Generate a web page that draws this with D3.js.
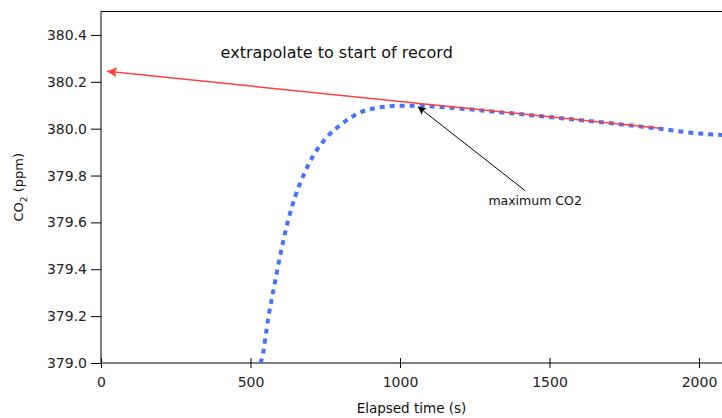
<!DOCTYPE html>
<html>
<head>
<meta charset="utf-8">
<script src="https://cdn.jsdelivr.net/npm/d3@7"></script>
<style>
  body { margin: 0; background: #fff; }
  svg { display: block; font-family: "DejaVu Sans", Verdana, sans-serif; }
</style>
</head>
<body>
<svg id="chart" width="722" height="418"></svg>
<script>
// elapsed time (s) and CO2 (ppm)
var times = [533, 537, 560, 582, 604, 626, 649, 677, 710, 755, 805, 866, 933, 1000, 1056, 1161, 1344, 1528, 1712, 1860, 2003, 2077];
var co2   = [379.0, 379.013, 379.197, 379.346, 379.488, 379.609, 379.708, 379.8, 379.885, 379.963, 380.02, 380.069, 380.091, 380.098, 380.098, 380.09, 380.069, 380.046, 380.022, 380.001, 379.979, 379.973];

// extrapolation line (drawn from the fit end back to the start of record)
var fitTimes = [1870, 20];
var fitCO2   = [380.002, 380.245];

// "maximum CO2" pointer: tail then tip
var maxArrowTimes = [1418, 1060];
var maxArrowCO2   = [379.736, 380.094];

var xTicks = [0, 500, 1000, 1500, 2000];
var yTicks = [379.0, 379.2, 379.4, 379.6, 379.8, 380.0, 380.2, 380.4];

let svg = d3.select("#chart"),
    margin = { top: 11.5, right: 0, bottom: 55, left: 101 },
    width = +svg.attr("width") - margin.left - margin.right,
    height = +svg.attr("height") - margin.top - margin.bottom;

let x = d3.scaleLinear().domain([0, 2077]).range([0, width]);
let y = d3.scaleLinear().domain([379, 380.5]).range([height, 0]);

let defs = svg.append("defs");
defs.append("marker")
    .attr("id", "redhead")
    .attr("viewBox", "0 -5 10 10")
    .attr("refX", 10).attr("refY", 0)
    .attr("markerUnits", "userSpaceOnUse")
    .attr("markerWidth", 16).attr("markerHeight", 10)
    .attr("orient", "auto")
    .append("path").attr("d", "M0,-5L10,0L0,5L2,0Z").attr("fill", "#ff4040");
defs.append("marker")
    .attr("id", "blackhead")
    .attr("viewBox", "0 -5 10 10")
    .attr("refX", 10).attr("refY", 0)
    .attr("markerUnits", "userSpaceOnUse")
    .attr("markerWidth", 13).attr("markerHeight", 8)
    .attr("orient", "auto")
    .append("path").attr("d", "M0,-5L10,0L0,5L2,0Z").attr("fill", "#000");

defs.append("clipPath").attr("id", "plotclip")
    .append("rect").attr("width", width).attr("height", height);

let g = svg.append("g")
    .attr("transform", "translate(" + margin.left + "," + margin.top + ")");

// axes
let xAxis = d3.axisBottom(x).tickValues(xTicks).tickSize(5).tickPadding(9).tickFormat(d3.format("d"));
let yAxis = d3.axisLeft(y).tickValues(yTicks).tickSize(10).tickPadding(4).tickFormat(d3.format(".1f"));

let gx = g.append("g")
    .attr("transform", "translate(0," + height + ")")
    .call(xAxis);
gx.selectAll(".tick line").attr("y1", -5).attr("y2", 5);

let gy = g.append("g").call(yAxis);

[gx, gy].forEach(a => {
    a.select(".domain").remove();
    a.selectAll(".tick line").attr("stroke", "#000");
    a.selectAll("text").attr("fill", "#222").style("font-size", "14px")
        .style("font-family", "'DejaVu Sans', Verdana, sans-serif");
});

// frame: left, bottom, top
g.append("line").attr("x1", 0).attr("x2", 0).attr("y1", 0).attr("y2", height).attr("stroke", "#000");
g.append("line").attr("x1", 0).attr("x2", width).attr("y1", height).attr("y2", height).attr("stroke", "#000");
g.append("line").attr("x1", 0).attr("x2", width).attr("y1", 0).attr("y2", 0).attr("stroke", "#000");

// data curve
let line = d3.line()
    .x((d, i) => x(times[i]))
    .y((d, i) => y(co2[i]))
    .curve(d3.curveMonotoneX);

g.append("path")
    .datum(co2)
    .attr("clip-path", "url(#plotclip)")
    .attr("d", line)
    .style("stroke", "#4574f7")
    .style("fill", "none")
    .style("stroke-width", "4px")
    .style("stroke-dasharray", "5,5");

// extrapolation
g.append("line")
    .attr("x1", x(fitTimes[0])).attr("y1", y(fitCO2[0]))
    .attr("x2", x(fitTimes[1])).attr("y2", y(fitCO2[1]))
    .attr("stroke", "#ff4040")
    .attr("stroke-width", 1.5)
    .attr("marker-end", "url(#redhead)");

// max pointer
g.append("line")
    .attr("x1", x(maxArrowTimes[0])).attr("y1", y(maxArrowCO2[0]))
    .attr("x2", x(maxArrowTimes[1])).attr("y2", y(maxArrowCO2[1]))
    .attr("stroke", "#000")
    .attr("stroke-width", 1)
    .attr("marker-end", "url(#blackhead)");

g.append("text")
    .attr("x", x(1452)).attr("y", y(379.737) + 15)
    .attr("text-anchor", "middle")
    .style("font-size", "12.5px")
    .attr("fill", "#111")
    .text("maximum CO2");

g.append("text")
    .attr("x", x(400)).attr("y", 46)
    .style("font-size", "16px")
    .attr("fill", "#111")
    .text("extrapolate to start of record");

// axis labels
svg.append("text")
    .attr("x", margin.left + width / 2).attr("y", 413)
    .attr("text-anchor", "middle")
    .style("font-size", "13.5px")
    .attr("fill", "#111")
    .text("Elapsed time (s)");

let yl = svg.append("text")
    .attr("transform", "translate(23," + (margin.top + height / 2) + ") rotate(-90)")
    .attr("text-anchor", "middle")
    .style("font-size", "13px")
    .attr("fill", "#111");
yl.append("tspan").text("CO");
yl.append("tspan").attr("dy", 4).style("font-size", "9px").text("2");
yl.append("tspan").attr("dy", -4).text(" (ppm)");
</script>
</body>
</html>
